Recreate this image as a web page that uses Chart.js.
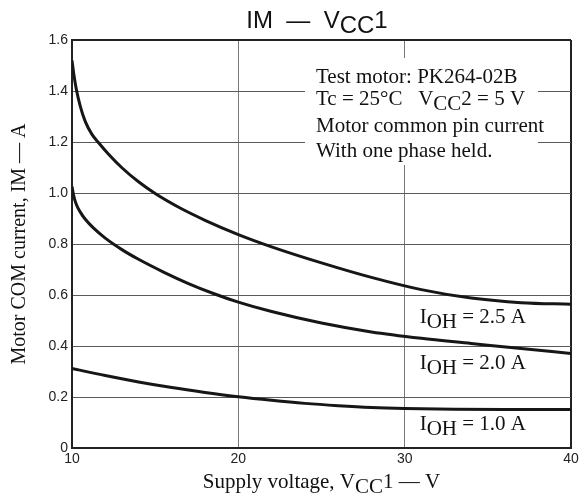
<!DOCTYPE html>
<html>
<head>
<meta charset="utf-8">
<script src="https://cdn.jsdelivr.net/npm/chart.js@4"></script>
<style>
  body { margin: 0; background: #fff; }
  #wrap { width: 588px; height: 499px; position: relative; }
</style>
</head>
<body>
<div id="wrap"><canvas id="chartIm"></canvas></div>
<script>
// curva I_OH = 2.5 A
const vcc25 = [10, 10.1, 10.25, 10.5, 10.8, 11.2, 11.6, 12.2, 13, 14, 15, 16.5, 18, 20, 22, 25, 28, 31, 34, 37, 40];
const im25 = [1.52, 1.47, 1.41, 1.34, 1.28, 1.23, 1.197, 1.152, 1.099, 1.044, 0.998, 0.941, 0.893, 0.837, 0.789, 0.726, 0.669, 0.621, 0.588, 0.570, 0.564];

// curva I_OH = 2.0 A
const vcc20 = [10, 10.1, 10.25, 10.5, 10.8, 11.3, 12, 13, 14, 15.5, 17, 18.5, 20, 22, 25, 28, 31, 34, 37, 40];
const im20 = [1.025, 0.99, 0.957, 0.925, 0.897, 0.862, 0.823, 0.778, 0.740, 0.690, 0.645, 0.606, 0.572, 0.535, 0.490, 0.455, 0.430, 0.410, 0.390, 0.371];

// curva I_OH = 1.0 A
const vcc10 = [10, 12, 14, 16, 18, 20, 22, 24, 26, 28, 30, 33, 36, 40];
const im10 = [0.312, 0.284, 0.259, 0.237, 0.218, 0.201, 0.187, 0.175, 0.166, 0.159, 0.155, 0.152, 0.151, 0.151];

const xTickLabels = ['10', '20', '30', '40'];
const yTickLabels = ['0', '0.2', '0.4', '0.6', '0.8', '1.0', '1.2', '1.4', '1.6'];

const noteLines = [
    [{ t: 'Test motor: PK264-02B' }],
    [{ t: 'Tc = 25°C   V' }, { t: 'CC', sub: true }, { t: '2 = 5 V' }],
    [{ t: 'Motor common pin current' }],
    [{ t: 'With one phase held.' }]
];
const curveLabels = ['2.5 A', '2.0 A', '1.0 A'];

const SERIF = '"Liberation Serif", "Times New Roman", serif';
const SANS = '"Liberation Sans", Arial, sans-serif';

function toPoints(xs, ys) {
    return xs.map((x, i) => ({ x: x, y: ys[i] }));
}

// texto com subscrito
function drawRich(ctx, x, y, parts, font, subDy, align) {
    ctx.font = font;
    const widths = parts.map(p => ctx.measureText(p.t).width);
    const total = widths.reduce((s, w) => s + w, 0);
    let cx = align === 'center' ? x - total / 2 : x;
    ctx.textAlign = 'left';
    parts.forEach((p, i) => {
        ctx.fillText(p.t, cx, y + (p.sub ? subDy : 0));
        cx += widths[i];
    });
}

const textPlugin = {
    id: 'textos',
    afterDatasetsDraw(chart) {
        const ctx = chart.ctx;
        const xs = chart.scales.x;
        const ys = chart.scales.y;
        ctx.save();
        // caixa de notas sobre a grade
        ctx.fillStyle = '#fff';
        ctx.fillRect(305, 58, 233, 107);
        ctx.fillStyle = '#111';
        ctx.textBaseline = 'alphabetic';
        const noteFont = '21px ' + SERIF;
        const baseY = [83, 105, 132, 157];
        noteLines.forEach((line, i) => drawRich(ctx, 316, baseY[i], line, noteFont, 5, 'left'));

        // rótulos das curvas
        const labelY = [ys.getPixelForValue(0.49), ys.getPixelForValue(0.31), ys.getPixelForValue(0.07)];
        curveLabels.forEach((lab, i) => {
            drawRich(ctx, xs.getPixelForValue(30.9), labelY[i],
                [{ t: 'I' }, { t: 'OH', sub: true }, { t: ' = ' + lab }], noteFont, 5, 'left');
        });
        ctx.restore();
    },
    afterDraw(chart) {
        const ctx = chart.ctx;
        const area = chart.chartArea;
        const midX = (area.left + area.right) / 2;
        ctx.save();
        ctx.fillStyle = '#111';
        ctx.textBaseline = 'alphabetic';
        // título
        drawRich(ctx, 317, 28, [{ t: 'IM  —  V' }, { t: 'CC', sub: true }, { t: '1' }], '24px ' + SANS, 5, 'center');
        // eixo x
        drawRich(ctx, midX, 488, [{ t: 'Supply voltage, V' }, { t: 'CC', sub: true }, { t: '1 — V' }], '21px ' + SERIF, 5, 'center');
        // eixo y
        ctx.translate(25, (area.top + area.bottom) / 2);
        ctx.rotate(-Math.PI / 2);
        drawRich(ctx, 0, 0, [{ t: 'Motor COM current, IM — A' }], '20px ' + SERIF, 0, 'center');
        ctx.restore();
    }
};

const lineStyle = {
    borderColor: '#161616',
    borderWidth: 3,
    pointRadius: 0,
    fill: false,
    cubicInterpolationMode: 'monotone'
};

const chartIm = new Chart(document.getElementById('chartIm').getContext('2d'), {
    type: 'line',
    data: {
        datasets: [
            Object.assign({ label: 'IOH = 2.5 A', data: toPoints(vcc25, im25) }, lineStyle),
            Object.assign({ label: 'IOH = 2.0 A', data: toPoints(vcc20, im20) }, lineStyle),
            Object.assign({ label: 'IOH = 1.0 A', data: toPoints(vcc10, im10) }, lineStyle)
        ]
    },
    options: {
        responsive: true,
        maintainAspectRatio: false,
        animation: false,
        layout: { padding: { top: 40, right: 17, left: 0, bottom: 0 } },
        plugins: {
            legend: { display: false },
            tooltip: { enabled: false }
        },
        scales: {
            x: {
                type: 'linear',
                min: 10,
                max: 40,
                afterFit: s => { s.height = 51; },
                ticks: {
                    stepSize: 10,
                    padding: 3,
                    color: '#222',
                    font: { family: SANS, size: 14 },
                    callback: (v, i) => xTickLabels[i]
                },
                grid: {
                    drawTicks: false,
                    color: ctx => (ctx.tick && ctx.tick.value === 40 ? '#222' : '#7a7a7a'),
                    lineWidth: ctx => (ctx.tick && ctx.tick.value === 40 ? 2 : 1)
                },
                border: { color: '#222', width: 2 }
            },
            y: {
                min: 0,
                max: 1.6,
                afterFit: s => { s.width = 72; },
                ticks: {
                    stepSize: 0.2,
                    padding: 4,
                    color: '#222',
                    font: { family: SANS, size: 14 },
                    callback: (v, i) => yTickLabels[i]
                },
                grid: {
                    drawTicks: false,
                    color: ctx => (ctx.tick && ctx.index === 8 ? '#222' : '#5a5a5a'),
                    lineWidth: ctx => (ctx.tick && ctx.index === 8 ? 2 : 1)
                },
                border: { color: '#222', width: 2 }
            }
        }
    },
    plugins: [textPlugin]
});
</script>
</body>
</html>
